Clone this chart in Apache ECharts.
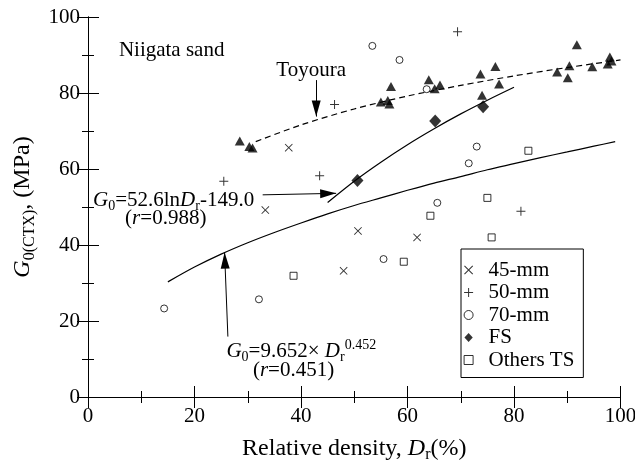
<!DOCTYPE html>
<html>
<head>
<meta charset="utf-8">
<script src="https://cdn.jsdelivr.net/npm/echarts@6/dist/echarts.min.js"></script>
<style>html,body{margin:0;padding:0;background:#fff}#c{width:635px;height:465px}</style>
</head>
<body>
<div id="c"></div>
<script>
// ---- data ----
const xTicks = [0, 20, 40, 60, 80, 100];
const yTicks = [0, 20, 40, 60, 80, 100];

const toyouraX = [28.5, 30.3, 30.9, 56.9, 55.0, 56.3, 56.6, 64.0, 65.1, 66.1, 73.7, 74.0, 76.5, 77.2, 88.1, 90.4, 90.1, 91.8, 94.7, 97.6, 98.0, 98.3];
const toyouraY = [67.4, 65.9, 65.5, 81.7, 77.6, 78.0, 77.1, 83.5, 81.1, 82.1, 85.0, 79.4, 87.0, 82.4, 85.5, 87.2, 84.0, 92.7, 86.9, 87.6, 89.5, 88.4];

const mm45X = [37.7, 33.3, 50.7, 48.0, 61.8];
const mm45Y = [65.6, 49.2, 43.7, 33.2, 42.0];

const mm50X = [25.5, 43.5, 46.3, 69.4, 81.3];
const mm50Y = [56.8, 58.2, 77.0, 96.1, 48.9];

const mm70X = [14.3, 32.1, 53.4, 58.5, 63.6, 73.0, 71.5, 65.6, 55.5];
const mm70Y = [23.3, 25.7, 92.4, 88.7, 81.0, 65.9, 61.5, 51.1, 36.3];

const fsX = [50.6, 65.2, 74.2];
const fsY = [57.0, 72.6, 76.4];

const othersX = [38.6, 59.3, 64.3, 75.0, 75.8, 82.7];
const othersY = [31.9, 35.6, 47.7, 52.4, 42.0, 64.8];

const toyFitX = [31.5, 40, 50, 60, 70, 80, 90, 100];
const toyFitY = [67.2, 71.6, 75.8, 79.2, 82.0, 84.5, 86.7, 88.7];

const lnFitX = [45, 50, 55, 60, 65, 70, 75, 80];
const lnFitY = [51.2, 56.8, 61.8, 66.4, 70.6, 74.5, 78.1, 81.5];

const powFitX = [15, 20, 25, 30, 35, 40, 45, 50, 55, 60, 65, 70, 75, 80, 85, 90, 95, 99];
const powFitY = [30.3, 34.2, 37.6, 40.6, 43.3, 45.8, 48.2, 50.4, 52.4, 54.4, 56.3, 58.0, 59.8, 61.4, 63.0, 64.5, 66.0, 67.2];

const legendNames = ['45-mm', '50-mm', '70-mm', 'FS', 'Others TS'];

// ---- chart ----
const FONT = '"Liberation Serif", "Times New Roman", serif';
const zip = (xs, ys) => xs.map((x, i) => [x, ys[i]]);
const CROSS = 'path://M-5,-4.2L-4.2,-5L0,-0.8L4.2,-5L5,-4.2L0.8,0L5,4.2L4.2,5L0,0.8L-4.2,5L-5,4.2L-0.8,0Z';
const PLUS = 'path://M-0.55,-5H0.55V-0.55H5V0.55H0.55V5H-0.55V0.55H-5V-0.55H-0.55Z';
const DIAMOND = 'path://M0,-6.5L6,0L0,6.5L-6,0Z';
const SQUARE = 'path://M-5,-5H5V5H-5Z';

const rich = (fs) => ({
  n: { fontFamily: FONT, fontSize: fs, lineHeight: fs + 5, color: '#000' },
  i: { fontFamily: FONT, fontSize: fs, lineHeight: fs + 5, fontStyle: 'italic', color: '#000' },
  sub: { fontFamily: FONT, fontSize: Math.round(fs * 0.67), lineHeight: Math.round(fs * 0.67), verticalAlign: 'bottom', color: '#000' },
  sup: { fontFamily: FONT, fontSize: Math.round(fs * 0.67), lineHeight: Math.round(fs * 0.67), verticalAlign: 'top', color: '#000' }
});

const xMin = xTicks[0], xMax = xTicks[xTicks.length - 1], xInt = xTicks[1] - xTicks[0];
const yMin = yTicks[0], yMax = yTicks[yTicks.length - 1], yInt = yTicks[1] - yTicks[0];

function axisCommon() {
  return {
    type: 'value',
    axisLine: { show: true, lineStyle: { color: '#000', width: 1 } },
    axisTick: { show: true, inside: true, length: 11, lineStyle: { color: '#000', width: 1 } },
    minorTick: { show: true, splitNumber: 2, length: 6, lineStyle: { color: '#000', width: 1 } },
    splitLine: { show: false },
    minorSplitLine: { show: false }
  };
}

const chart = echarts.init(document.getElementById('c'), null, { renderer: 'canvas' });

const option = {
  backgroundColor: '#fff',
  animation: false,
  textStyle: { fontFamily: FONT },
  grid: { left: 88, right: 14.5, top: 17, bottom: 68, containLabel: false, outerBoundsMode: 'none' },
  legend: {
    data: [
      { name: legendNames[0], icon: CROSS },
      { name: legendNames[1], icon: PLUS },
      { name: legendNames[2], icon: 'circle', itemStyle: { color: '#fff', borderColor: '#000', borderWidth: 1 } },
      { name: legendNames[3], icon: DIAMOND },
      { name: legendNames[4], icon: SQUARE, itemStyle: { color: '#fff', borderColor: '#000', borderWidth: 1 } }
    ],
    orient: 'vertical',
    left: 461, top: 249,
    padding: [10.5, 9, 7, 2.6],
    itemWidth: 30, itemHeight: 9, itemGap: 1.5,
    borderColor: '#000', borderWidth: 1, borderRadius: 0,
    backgroundColor: '#fff',
    textStyle: { fontFamily: FONT, fontSize: 21, color: '#000', lineHeight: 21 },
    selectedMode: false
  },
  xAxis: [
    Object.assign(axisCommon(), {
      min: xMin, max: xMax, interval: xInt, position: 'bottom',
      axisLabel: { show: true, margin: 9, fontFamily: FONT, fontSize: 21, color: '#000', showMaxLabel: true, showMinLabel: true },
      name: '{n|Relative density, }{i|D}{sub|r}{n|(%)}',
      nameLocation: 'middle', nameGap: 37,
      nameTextStyle: { rich: rich(24) }
    }),
    Object.assign(axisCommon(), {
      min: xMin, max: xMax, interval: xInt, position: 'top',
      axisLabel: { show: false }
    })
  ],
  yAxis: [
    Object.assign(axisCommon(), {
      min: yMin, max: yMax, interval: yInt, position: 'left',
      axisLabel: { show: true, margin: 8, fontFamily: FONT, fontSize: 21, color: '#000' },
      name: '{i|G}{sub|0(CTX)}{n|, (MPa)}',
      nameLocation: 'middle', nameGap: 50, nameRotate: 90,
      nameTextStyle: { rich: rich(24) }
    }),
    Object.assign(axisCommon(), {
      min: yMin, max: yMax, interval: yInt, position: 'right',
      axisLabel: { show: false }
    })
  ],
  series: [
    {
      name: 'Toyoura fit', type: 'line', data: zip(toyFitX, toyFitY), smooth: 0.3,
      showSymbol: false, symbol: 'none', z: 2, silent: true,
      lineStyle: { color: '#000', width: 1.2, type: [6, 4] }
    },
    {
      name: 'ln fit', type: 'line', data: zip(lnFitX, lnFitY), smooth: 0.3,
      showSymbol: false, symbol: 'none', z: 2, silent: true,
      lineStyle: { color: '#000', width: 1.2 }
    },
    {
      name: 'power fit', type: 'line', data: zip(powFitX, powFitY), smooth: 0.3,
      showSymbol: false, symbol: 'none', z: 2, silent: true,
      lineStyle: { color: '#000', width: 1.2 },
      markLine: {
        silent: true, animation: false,
        symbol: ['none', 'triangle'], symbolSize: [9, 16], symbolOffset: [0, [0, 8]],
        label: { show: false },
        lineStyle: { color: '#000', width: 1, type: 'solid' },
        itemStyle: { color: '#000' },
        emphasis: { disabled: true },
        data: [
          [{ coord: [32.8, 53.2] }, { coord: [46.6, 53.6] }],
          [{ coord: [26.27, 15.9] }, { coord: [25.65, 38.0] }],
          [{ coord: [42.85, 83.4] }, { coord: [42.85, 73.8] }]
        ]
      }
    },
    {
      name: 'Toyoura', type: 'scatter', data: zip(toyouraX, toyouraY), z: 3,
      symbol: 'triangle', symbolSize: [10, 9], itemStyle: { color: '#000' }
    },
    {
      name: '45-mm', type: 'scatter', data: zip(mm45X, mm45Y), z: 3,
      symbol: CROSS, symbolSize: 8, itemStyle: { color: '#000' }
    },
    {
      name: '50-mm', type: 'scatter', data: zip(mm50X, mm50Y), z: 3,
      symbol: PLUS, symbolSize: 9, itemStyle: { color: '#000' }
    },
    {
      name: '70-mm', type: 'scatter', data: zip(mm70X, mm70Y), z: 3,
      symbol: 'circle', symbolSize: 7,
      itemStyle: { color: '#fff', borderColor: '#000', borderWidth: 1 }
    },
    {
      name: 'FS', type: 'scatter', data: zip(fsX, fsY), z: 3,
      symbol: 'diamond', symbolSize: [12, 13], itemStyle: { color: '#000' }
    },
    {
      name: 'Others TS', type: 'scatter', data: zip(othersX, othersY), z: 3,
      symbol: 'rect', symbolSize: 7,
      itemStyle: { color: '#fff', borderColor: '#000', borderWidth: 1 }
    }
  ]
};

chart.setOption(option);

// ---- annotations anchored in data coordinates ----
const notes = [
  { at: [5.8, 91.3], align: 'left', text: '{n|Niigata sand}' },
  { at: [41.9, 85.8], align: 'center', text: '{n|Toyoura}' },
  { at: [0.94, 51.8], align: 'left', text: '{i|G}{sub|0}{n|=52.6ln}{i|D}{sub|r}{n|-149.0}' },
  { at: [14.6, 47.1], align: 'center', text: '{n|(}{i|r}{n|=0.988)}' },
  { at: [26.0, 11.9], align: 'left', text: '{i|G}{sub|0}{n|=9.652× }{i|D}{sub|r}{sup|0.452}' },
  { at: [38.6, 7.1], align: 'center', text: '{n|(}{i|r}{n|=0.451)}' }
];
const graphics = notes.map(nt => {
  const p = chart.convertToPixel({ gridIndex: 0 }, nt.at);
  return {
    type: 'text', x: p[0], y: p[1], z: 10, silent: true,
    style: { text: nt.text, rich: rich(21), align: nt.align, verticalAlign: 'middle' }
  };
});
chart.setOption({ graphic: graphics });
</script>
</body>
</html>
